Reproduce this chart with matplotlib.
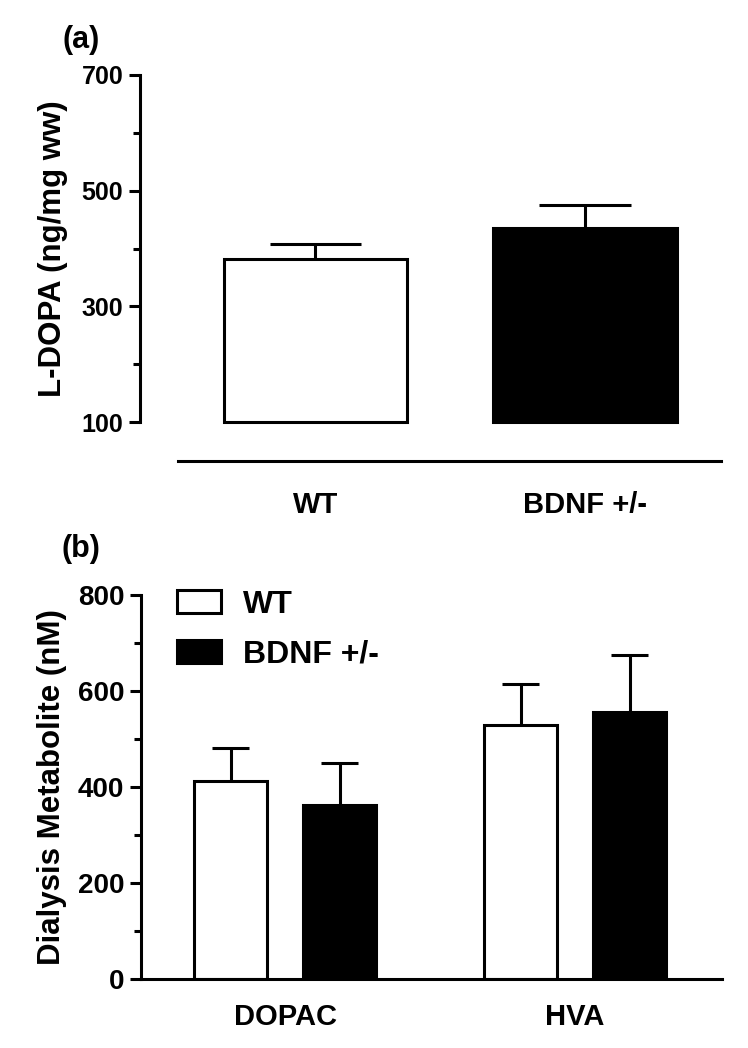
import numpy as np
import matplotlib
matplotlib.use("Agg")
import matplotlib.pyplot as plt

plt.rcParams['font.family'] = ['Liberation Sans', 'DejaVu Sans']
plt.rcParams['font.weight'] = 'bold'

# Panel (a) - L-DOPA
groups_a = ["WT", "BDNF +/-"]
ldopa_mean = [382, 436]
ldopa_sem = [25, 39]

# Panel (b) - dialysis metabolites
metabolites = ["DOPAC", "HVA"]
wt_mean = [412, 529]
wt_sem = [70, 86]
bdnf_mean = [363, 557]
bdnf_sem = [88, 117]

W, H = 748, 1048
lw = 2.2

fig = plt.figure(figsize=(W / 100, H / 100), dpi=100)


def px_axes(x0, x1, ytop, ybot):
    return fig.add_axes([x0 / W, 1 - ybot / H, (x1 - x0) / W, (ybot - ytop) / H])


def style_axis(ax, tick_size):
    for s in ['top', 'right']:
        ax.spines[s].set_visible(False)
    for s in ['left', 'bottom']:
        ax.spines[s].set_linewidth(lw)
    ax.tick_params(axis='y', which='major', length=8, width=lw, labelsize=tick_size, pad=4)
    ax.tick_params(axis='y', which='minor', length=5, width=lw)
    ax.tick_params(axis='x', length=0, labelsize=21)


def err_up(ax, x, mean, sem, width):
    top = np.array(mean) + np.array(sem)
    ax.vlines(x, mean, top, colors='black', linewidth=lw, zorder=1)
    ax.hlines(top, np.array(x) - width / 4, np.array(x) + width / 4,
              colors='black', linewidth=lw, zorder=1)


# ---- panel (a)
ax1 = px_axes(178, 721, 75, 422)
xa = np.arange(len(groups_a))
wa = 0.68
ax1.bar(xa, np.array(ldopa_mean) - 100, bottom=100, width=wa,
        color=['white', 'black'], edgecolor='black', linewidth=lw,
        zorder=2, clip_on=False)
err_up(ax1, xa, ldopa_mean, ldopa_sem, wa)
ax1.set_xlim(-0.510, 1.505)
ax1.set_ylim(100, 700)
ax1.set_yticks([100, 300, 500, 700])
ax1.set_yticks([200, 400, 600], minor=True)
ax1.set_xticks(xa)
ax1.set_xticklabels(groups_a, fontweight='bold')
style_axis(ax1, 18)
ax1.tick_params(axis='x', pad=22)
ax1.spines['left'].set_position(('outward', 27.4))
ax1.spines['bottom'].set_position(('outward', 28))
ax1.set_ylabel("L-DOPA (ng/mg ww)", fontsize=22.5, fontweight='bold', labelpad=10)
fig.text(81 / W, 1 - 40 / H, "(a)", fontsize=22, fontweight='bold',
         ha='center', va='center')

# ---- panel (b)
ax2 = px_axes(141, 722, 595, 979)
xb = np.arange(len(metabolites))
wb = 0.252
off = 0.188
b_wt = ax2.bar(xb - off, wt_mean, width=wb, color='white', edgecolor='black',
               linewidth=lw, zorder=2, label="WT")
b_bd = ax2.bar(xb + off, bdnf_mean, width=wb, color='black', edgecolor='black',
               linewidth=lw, zorder=2, label="BDNF +/-")
err_up(ax2, xb - off, wt_mean, wt_sem, wb)
err_up(ax2, xb + off, bdnf_mean, bdnf_sem, wb)
ax2.set_xlim(-0.497, 1.507)
ax2.set_ylim(0, 800)
ax2.set_yticks([0, 200, 400, 600, 800])
ax2.set_yticks([100, 300, 500, 700], minor=True)
ax2.set_xticks(xb)
ax2.set_xticklabels(metabolites, fontweight='bold')
style_axis(ax2, 20)
ax2.tick_params(axis='x', pad=17)
ax2.set_ylabel("Dialysis Metabolite (nM)", fontsize=22.5, fontweight='bold', labelpad=8)
fig.text(81 / W, 1 - 549 / H, "(b)", fontsize=22, fontweight='bold',
         ha='center', va='center')

ax2.legend(handles=[b_wt, b_bd], loc='upper left',
           bbox_to_anchor=(177 / W, 1 - 590 / H), bbox_transform=fig.transFigure,
           frameon=False, handlelength=1.375, handleheight=0.72,
           handletextpad=0.68, labelspacing=0.62, borderpad=0, borderaxespad=0,
           prop={'weight': 'bold', 'size': 23})

fig.savefig("out.png", dpi=100)
